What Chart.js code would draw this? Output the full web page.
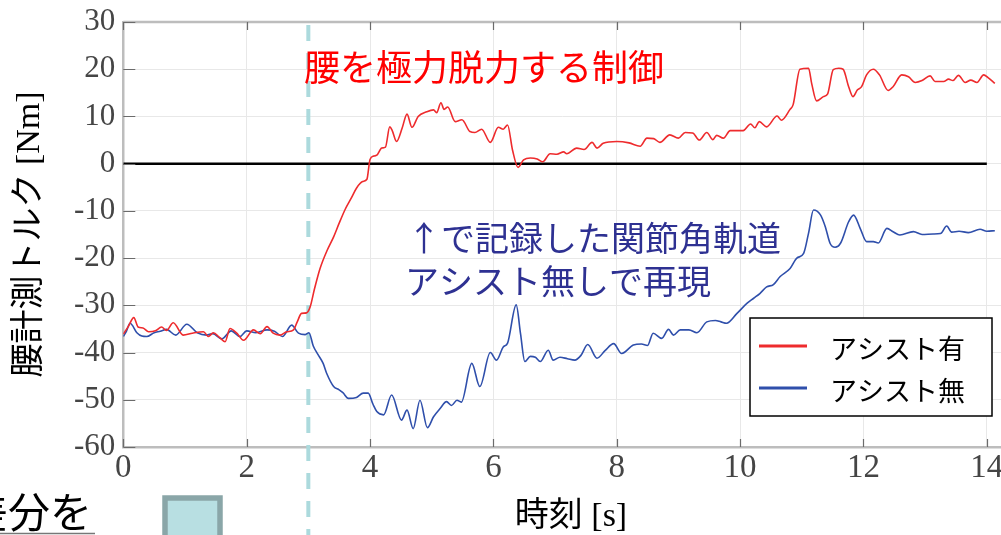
<!DOCTYPE html>
<html>
<head>
<meta charset="utf-8">
<script src="https://cdn.jsdelivr.net/npm/chart.js@4"></script>
<style>
  html, body { margin: 0; padding: 0; background: #fff; overflow: hidden; }
  #wrap { width: 1001px; height: 535px; position: relative; }
</style>
</head>
<body>
<div id="wrap"><canvas id="c" width="1001" height="535"></canvas></div>
<script>
// Waist torque [Nm] against time [s]
const seriesLabels = ['アシスト有', 'アシスト無'];

const assistOnTime = [
  0.00, 0.08, 0.17, 0.24, 0.32, 0.41, 0.52, 0.62, 0.70, 0.81, 0.97, 1.12, 1.30, 1.38, 1.46, 1.56,
  1.65, 1.73, 1.84, 1.95, 2.11, 2.22, 2.33, 2.43, 2.54, 2.65, 2.76, 2.82, 2.89, 2.97, 3.03, 3.10,
  3.19, 3.30, 3.41, 3.50, 3.60, 3.70, 3.78, 3.88, 3.95, 4.00, 4.06, 4.11, 4.19, 4.25, 4.32, 4.36,
  4.43, 4.52, 4.60, 4.68, 4.78, 4.92, 5.03, 5.08, 5.15, 5.20, 5.26, 5.38, 5.49, 5.62, 5.70, 5.81,
  5.95, 6.08, 6.16, 6.23, 6.31, 6.40, 6.49, 6.60, 6.71, 6.80, 6.92, 7.03, 7.14, 7.19, 7.35, 7.47,
  7.60, 7.68, 7.78, 8.00, 8.20, 8.38, 8.49, 8.60, 8.70, 8.86, 9.00, 9.11, 9.23, 9.34, 9.46, 9.56,
  9.62, 9.73, 9.84, 10.05, 10.17, 10.24, 10.31, 10.43, 10.60, 10.67, 10.81, 10.86, 10.97, 11.11, 11.16, 11.24,
  11.35, 11.42, 11.51, 11.60, 11.67, 11.76, 11.83, 11.90, 11.97, 12.05, 12.16, 12.26, 12.40, 12.48, 12.62, 12.73,
  12.84, 12.95, 13.08, 13.16, 13.30, 13.38, 13.45, 13.54, 13.65, 13.74, 13.84, 13.95, 14.02, 14.13
];
const assistOnTorque = [
  -36.1, -34.5, -32.6, -34.6, -34.8, -35.6, -35.4, -34.6, -35.3, -33.7, -36.3, -35.9, -35.6, -36.6, -35.8, -36.8,
  -37.7, -34.9, -35.9, -37.4, -35.2, -36.0, -34.5, -35.9, -36.3, -35.6, -35.2, -33.5, -31.7, -31.6, -30.3, -26.5,
  -22.2, -18.5, -15.5, -12.6, -9.6, -7.2, -5.2, -3.8, -3.3, 0.9, 1.6, 1.8, 3.3, 3.5, 7.8, 7.0,
  4.7, 7.5, 10.5, 7.7, 10.0, 11.0, 11.4, 10.8, 12.9, 11.5, 12.0, 8.9, 9.3, 6.8, 6.6, 7.3,
  4.5, 7.7, 7.3, 8.2, 2.9, -0.8, 0.8, 1.2, 1.0, 0.4, 2.1, 2.0, 2.5, 2.1, 3.3, 3.0,
  4.5, 3.3, 4.3, 4.7, 4.4, 3.7, 5.4, 5.3, 4.5, 6.1, 5.4, 6.6, 6.5, 5.0, 6.6, 5.1,
  6.0, 5.4, 7.0, 7.0, 8.4, 7.6, 8.9, 7.8, 10.1, 9.2, 11.5, 12.5, 20.0, 20.2, 17.0, 13.3,
  14.2, 14.8, 19.9, 20.2, 20.0, 16.3, 14.2, 15.6, 16.3, 18.8, 20.0, 18.8, 15.5, 16.3, 18.8, 18.4,
  17.2, 17.6, 18.6, 17.4, 17.4, 17.9, 17.6, 18.7, 17.2, 17.7, 17.2, 18.8, 18.2, 17.0
];

const assistOffTime = [
  0.00, 0.05, 0.11, 0.22, 0.30, 0.38, 0.50, 0.60, 0.70, 0.85, 1.03, 1.20, 1.35, 1.45, 1.60, 1.75,
  1.89, 2.00, 2.15, 2.33, 2.45, 2.58, 2.73, 2.84, 2.95, 3.01, 3.08, 3.16, 3.24, 3.30, 3.41, 3.50,
  3.56, 3.65, 3.78, 3.89, 3.97, 4.05, 4.11, 4.22, 4.35, 4.51, 4.60, 4.70, 4.81, 4.93, 5.03, 5.14,
  5.24, 5.32, 5.41, 5.48, 5.65, 5.78, 5.95, 6.05, 6.16, 6.23, 6.37, 6.44, 6.51, 6.60, 6.68, 6.76,
  6.89, 6.97, 7.08, 7.20, 7.32, 7.42, 7.53, 7.68, 7.81, 7.95, 8.08, 8.27, 8.40, 8.50, 8.59, 8.73,
  8.84, 8.92, 9.03, 9.17, 9.30, 9.46, 9.60, 9.69, 9.78, 9.95, 10.11, 10.22, 10.32, 10.43, 10.54, 10.65,
  10.81, 10.92, 11.03, 11.11, 11.19, 11.30, 11.38, 11.46, 11.54, 11.63, 11.76, 11.84, 11.95, 12.05, 12.16, 12.24,
  12.38, 12.48, 12.59, 12.81, 12.95, 13.13, 13.25, 13.35, 13.43, 13.55, 13.70, 13.89, 14.00, 14.13
];
const assistOffTorque = [
  -36.6, -35.5, -33.8, -35.8, -36.5, -36.6, -35.8, -35.5, -35.1, -36.3, -34.0, -35.8, -36.3, -36.0, -37.1, -35.4,
  -36.6, -35.4, -35.8, -35.2, -35.5, -36.6, -34.2, -35.9, -36.2, -35.8, -38.6, -40.5, -42.3, -44.5, -47.2, -47.9,
  -48.5, -49.7, -49.5, -48.6, -48.6, -51.0, -52.5, -53.2, -49.0, -54.3, -52.2, -56.1, -50.1, -55.9, -53.6, -51.8,
  -50.4, -51.2, -50.1, -50.5, -42.3, -47.2, -40.0, -41.6, -38.8, -38.0, -29.9, -36.0, -41.9, -40.8, -41.0, -41.9,
  -39.5, -41.6, -41.0, -41.3, -41.6, -40.6, -38.3, -41.2, -39.6, -38.1, -40.2, -38.4, -38.2, -38.5, -35.9, -37.0,
  -35.1, -36.3, -35.2, -35.2, -35.8, -33.5, -33.2, -33.5, -33.8, -31.7, -29.6, -28.5, -27.5, -26.1, -25.6, -23.9,
  -22.2, -20.0, -19.0, -14.7, -9.8, -10.8, -13.3, -16.9, -17.7, -16.8, -12.3, -10.9, -13.8, -16.5, -16.5, -16.8,
  -13.7, -14.4, -15.1, -14.4, -15.0, -14.9, -14.8, -13.2, -14.5, -14.3, -14.6, -13.9, -14.3, -14.2
];

// zero reference line and the moment the controller switches
const zeroLineTime = [0, 14];
const zeroLineTorque = [0, 0];
const switchTime = 3;

const xTicks = [0, 2, 4, 6, 8, 10, 12, 14];
const yTicks = [-60, -50, -40, -30, -20, -10, 0, 10, 20, 30];

const toPoints = (ts, vs) => ts.map((t, i) => ({ x: t, y: vs[i] }));

const JP = '"Noto Sans CJK JP"';
const SERIF_JP = '"Liberation Serif", "Noto Sans CJK JP"';

const decor = {
  id: 'decor',
  beforeDatasetsDraw(chart) {
    const { ctx, chartArea: a, scales: { x } } = chart;
    ctx.save();
    // upper frame edge
    ctx.strokeStyle = '#bdbdbd';
    ctx.lineWidth = 2.5;
    ctx.beginPath();
    ctx.moveTo(a.left, a.top);
    ctx.lineTo(chart.width, a.top);
    ctx.stroke();
    // dashed marker at the switch time, running past the axis
    const sx = x.getPixelForValue(switchTime);
    ctx.setLineDash([16, 12]);
    ctx.strokeStyle = '#acdadd';
    ctx.lineWidth = 4;
    ctx.beginPath();
    ctx.moveTo(sx, a.top + 3);
    ctx.lineTo(sx, chart.height);
    ctx.stroke();
    ctx.restore();
  },
  afterDatasetsDraw(chart) {
    const { ctx, chartArea: a, scales: { x, y } } = chart;
    const ds = chart.data.datasets;
    ctx.save();

    // inward tick marks
    ctx.strokeStyle = '#6b6b6b';
    ctx.lineWidth = 1.2;
    ctx.beginPath();
    x.ticks.forEach(t => {
      const px = Math.round(x.getPixelForValue(t.value)) + 0.5;
      ctx.moveTo(px, a.bottom); ctx.lineTo(px, a.bottom - 8);
      ctx.moveTo(px, a.top); ctx.lineTo(px, a.top + 8);
    });
    y.ticks.forEach(t => {
      const py = Math.round(y.getPixelForValue(t.value)) + 0.5;
      ctx.moveTo(a.left, py); ctx.lineTo(a.left + 12, py);
    });
    ctx.stroke();

    // annotations
    ctx.textAlign = 'left';
    ctx.textBaseline = 'middle';
    ctx.font = '36px ' + JP;
    ctx.fillStyle = '#ff0000';
    ctx.fillText('腰を極力脱力する制御', 304, 67);
    ctx.font = '34px ' + JP;
    ctx.fillStyle = '#2e3192';
    ctx.fillText('↑で記録した関節角軌道', 407, 238);
    ctx.fillText('アシスト無しで再現', 405, 281);

    // legend box
    const lx = 750, ly = 318, lw = 242, lh = 98;
    ctx.fillStyle = '#ffffff';
    ctx.fillRect(lx, ly, lw, lh);
    ctx.strokeStyle = '#000000';
    ctx.lineWidth = 1.5;
    ctx.strokeRect(lx, ly, lw, lh);
    ctx.font = '27px ' + JP;
    [0, 1].forEach((k, i) => {
      const ry = ly + 28 + i * 42;
      ctx.strokeStyle = ds[k].borderColor;
      ctx.lineWidth = 3;
      ctx.beginPath();
      ctx.moveTo(lx + 9, ry); ctx.lineTo(lx + 57, ry);
      ctx.stroke();
      ctx.fillStyle = '#000000';
      ctx.fillText(ds[k].label, lx + 80, ry + 3);
    });

    // axis titles
    ctx.fillStyle = '#000000';
    ctx.textAlign = 'center';
    ctx.font = '34px ' + SERIF_JP;
    ctx.save();
    ctx.translate(30, (a.top + a.bottom) / 2);
    ctx.rotate(-Math.PI / 2);
    ctx.fillText('腰計測トルク [Nm]', 0, 0);
    ctx.restore();
    ctx.fillText('時刻 [s]', 571, 517);

    // slide fragment in the lower-left corner
    ctx.textAlign = 'left';
    ctx.textBaseline = 'alphabetic';
    ctx.font = '42px ' + JP;
    ctx.fillText('差分を', -34, 528);
    ctx.strokeStyle = '#777777';
    ctx.lineWidth = 1.5;
    ctx.beginPath();
    ctx.moveTo(0, 533.5); ctx.lineTo(95, 533.5);
    ctx.stroke();
    ctx.fillStyle = '#b8dfe2';
    ctx.fillRect(165, 498, 55, 45);
    ctx.strokeStyle = '#8aa6a8';
    ctx.lineWidth = 5.5;
    ctx.strokeRect(165, 498, 55, 45);

    ctx.restore();
  }
};

new Chart(document.getElementById('c'), {
  type: 'line',
  data: {
    datasets: [
      {
        label: seriesLabels[0],
        data: toPoints(assistOnTime, assistOnTorque),
        borderColor: '#ee2b2d',
        borderWidth: 1.6,
        pointRadius: 0,
        cubicInterpolationMode: 'monotone',
        fill: false
      },
      {
        label: seriesLabels[1],
        data: toPoints(assistOffTime, assistOffTorque),
        borderColor: '#2f4fab',
        borderWidth: 1.6,
        pointRadius: 0,
        cubicInterpolationMode: 'monotone',
        fill: false
      },
      {
        label: 'zero',
        data: toPoints(zeroLineTime, zeroLineTorque),
        borderColor: '#000000',
        borderWidth: 2.5,
        pointRadius: 0,
        fill: false
      }
    ]
  },
  options: {
    responsive: false,
    animation: false,
    devicePixelRatio: 1,
    layout: { padding: { top: 22, left: 0, right: 0, bottom: 0 } },
    plugins: { legend: { display: false }, tooltip: { enabled: false } },
    scales: {
      x: {
        type: 'linear',
        min: 0,
        max: 14.23,
        afterBuildTicks(s) { s.ticks = xTicks.map(v => ({ value: v })); },
        afterFit(s) {
          s.height = 88;
          // let the plot run to the canvas edge; the last label may be clipped
          s.paddingLeft = 0;
          s.paddingRight = 0;
        },
        grid: { color: '#e8e8e8', lineWidth: 1, drawTicks: false },
        border: { color: '#bdbdbd', width: 2.5 },
        ticks: {
          includeBounds: false,
          autoSkip: false,
          maxRotation: 0,
          padding: 2,
          color: '#454545',
          font: { family: '"Liberation Serif"', size: 33 }
        }
      },
      y: {
        type: 'linear',
        min: -60,
        max: 30,
        afterBuildTicks(s) { s.ticks = yTicks.map(v => ({ value: v })); },
        afterFit(s) {
          s.width = 123.3;
          s.paddingTop = 0;
          s.paddingBottom = 0;
        },
        grid: { color: '#e8e8e8', lineWidth: 1, drawTicks: false },
        border: { color: '#bdbdbd', width: 2.5 },
        ticks: {
          padding: 8,
          color: '#454545',
          font: { family: '"Liberation Serif"', size: 31 }
        }
      }
    }
  },
  plugins: [decor]
});
</script>
</body>
</html>
